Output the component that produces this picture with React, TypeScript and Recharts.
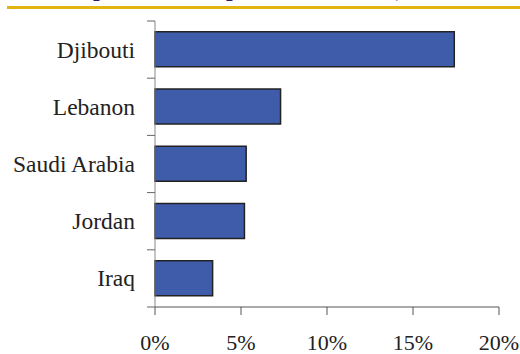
import { Bar, BarChart, XAxis, YAxis } from "recharts";

const countries = ["Djibouti", "Lebanon", "Saudi Arabia", "Jordan", "Iraq"];
const shares = [17.4, 7.3, 5.3, 5.2, 3.35];
const xTicks = [0, 5, 10, 15, 20];

const data = countries.map((name, i) => ({ name, value: shares[i] }));

const W = 520;
const H = 354;
const TOP = 21;
const X_AXIS_H = 47;
const BAND = (H - TOP - X_AXIS_H) / countries.length;

const font = "'Liberation Serif', 'Times New Roman', serif";

const CategoryTick = (props: any) => {
  const { x, y, payload, index } = props;
  const ax = x + 20;
  return (
    <g>
      <text
        x={x}
        y={y}
        textAnchor="end"
        dominantBaseline="central"
        fontFamily={font}
        fontSize={23.5}
        fill="#222"
      >
        {payload.value}
      </text>
      <line x1={ax - 8} x2={ax} y1={y - BAND / 2} y2={y - BAND / 2} stroke="#666" />
      {index === countries.length - 1 && (
        <line x1={ax - 8} x2={ax} y1={y + BAND / 2} y2={y + BAND / 2} stroke="#666" />
      )}
    </g>
  );
};

export default function App() {
  return (
    <div style={{ position: "absolute", left: 0, top: 0, width: W, height: H, background: "#fff", overflow: "hidden" }}>
      <svg
        width={W}
        height={H}
        style={{ position: "absolute", left: 0, top: 0, pointerEvents: "none" }}
      >
        <text x={-5} y={-4} fontFamily={font} fontWeight="bold" fontSize={24} fill="#35186e">
          Health expenditure as percent of GDP (selected countries)
        </text>
        <rect x={7} y={6} width={W - 7} height={3} fill="#e2b411" />
      </svg>
      <BarChart
        width={W}
        height={H}
        data={data}
        layout="vertical"
        margin={{ top: TOP, right: 21, left: 0, bottom: 0 }}
        barCategoryGap="19%"
      >
        <XAxis
          type="number"
          domain={[0, 20]}
          ticks={xTicks}
          tickFormatter={(v) => `${v}%`}
          height={X_AXIS_H}
          tickSize={8}
          tickMargin={19}
          stroke="#555"
          tick={{ fontFamily: font, fontSize: 22, fill: "#222" }}
          interval={0}
        />
        <YAxis
          type="category"
          dataKey="name"
          width={155}
          tickLine={false}
          tickSize={0}
          tickMargin={20}
          stroke="#888"
          tick={<CategoryTick />}
          interval={0}
        />
        <Bar
          dataKey="value"
          fill="#3f5caa"
          stroke="#222"
          strokeWidth={1.5}
          isAnimationActive={false}
        />
      </BarChart>
    </div>
  );
}
